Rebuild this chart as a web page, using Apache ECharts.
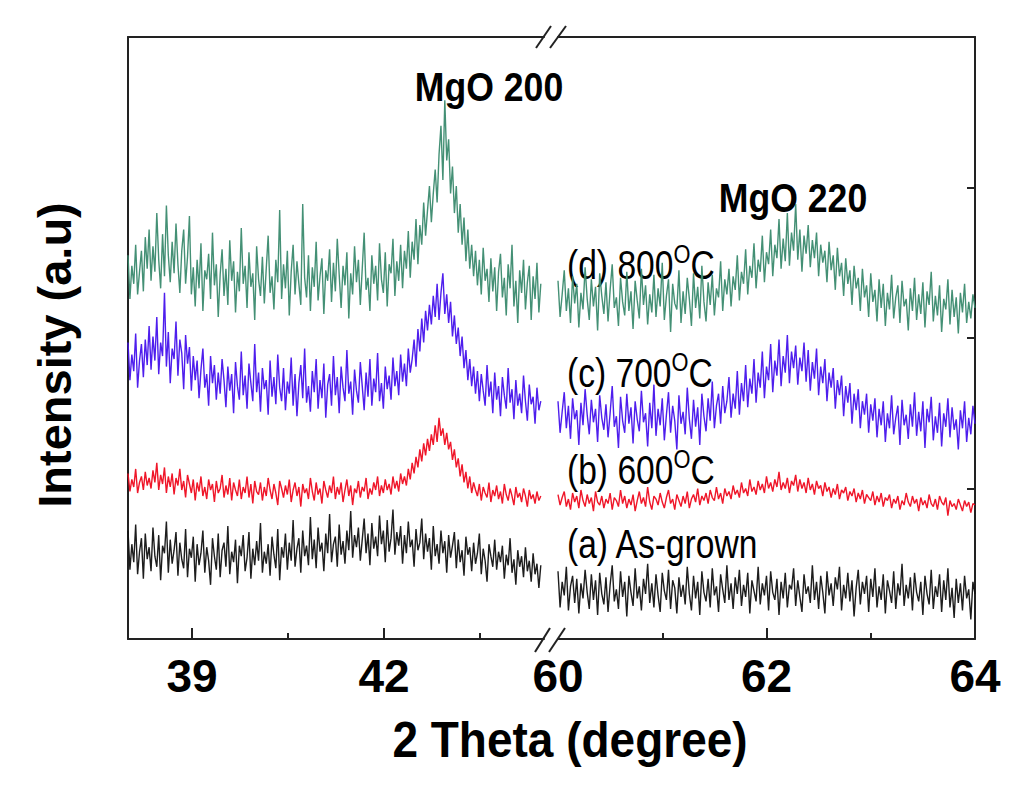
<!DOCTYPE html>
<html>
<head>
<meta charset="utf-8">
<script src="https://cdn.jsdelivr.net/npm/echarts@6/dist/echarts.min.js"></script>
<style>html,body{margin:0;padding:0;background:#fff}#c{width:1024px;height:796px}</style>
</head>
<body>
<div id="c"></div>
<script>
// ---- scan grids (2θ, degrees) ----
const leftScanStart = 38.0, leftScanStep = 0.03;
const rightScanStart = 60.0, rightScanStep = 0.02;

// ---- tick labels ----
const leftTickLabels = [39, 42];
const leftMinorTicks = [40.5, 43.5];
const rightTickLabels = [60, 62, 64];
const rightMajorTicks = [62];
const rightMinorTicks = [61, 63];

// ---- annotation text ----
const peakLabels = ['MgO 200', 'MgO 220'];
const sampleNames = ['(a) As-grown', '(b) 600', '(c) 700', '(d) 800'];

// ---- intensities (a.u., stacked offsets), left panel 38.00–44.45° ----
const asGrownLeft = [72,46,63,51,76,43,58,67,40,70,53,61,45,74,55,48,69,39,62,57,78,44,66,50,59,71,42,64,53,47,73,41,60,54,68,38,63,49,57,72,44,61,52,36,67,55,46,70,41,59,64,48,75,43,58,51,66,37,62,55,69,45,54,71,40,60,49,65,52,77,44,58,50,63,42,68,56,47,73,39,61,54,70,46,64,52,79,48,60,67,44,72,55,62,49,81,53,66,47,74,58,64,45,70,57,83,51,63,68,48,76,56,65,50,72,59,85,54,69,61,74,52,66,80,57,70,49,77,60,68,55,82,63,72,51,79,58,67,86,56,71,62,75,50,69,57,78,61,66,48,73,59,64,80,53,70,58,67,46,75,55,63,50,72,57,65,44,69,54,62,71,47,66,51,59,42,68,56,61,45,64,50,57,70,43,60,52,38,63,55,48,66,46,58,51,62,40,56,49,67,44,53,36,59,48,55,41,61,45,52,38,57,43,50,34,49];
const t600Left = [110,98,106,101,113,97,104,108,99,111,102,107,100,112,104,117,99,109,103,114,97,108,101,110,96,107,102,113,99,105,94,109,103,97,106,92,104,98,108,95,101,93,106,99,103,91,105,97,100,109,94,102,96,107,92,104,99,95,106,93,101,97,108,94,103,90,105,98,96,104,92,101,95,107,99,93,103,97,89,105,100,94,102,96,106,91,99,104,95,101,88,103,97,100,93,107,98,92,104,96,100,90,105,99,94,102,97,108,93,101,96,104,91,99,106,95,102,89,100,97,105,94,101,98,107,93,100,96,104,99,108,95,102,97,106,99,103,96,108,100,105,98,110,103,108,102,113,106,117,110,121,114,126,118,130,122,133,125,136,129,142,131,147,135,140,129,137,126,131,119,126,114,120,108,116,104,111,100,108,97,104,99,95,103,92,101,97,94,104,91,99,95,102,93,98,90,103,96,92,100,95,89,101,94,97,91,100,95,88,99,93,96,90,98,92,95];
const t700Left = [197,172,189,178,203,167,185,196,174,199,182,208,179,201,185,214,176,197,188,230,181,204,170,193,186,211,175,199,190,166,202,183,194,165,188,172,185,160,179,193,167,176,155,188,170,182,159,177,163,186,172,154,181,165,176,150,184,168,159,191,162,175,153,183,170,158,196,164,177,151,180,166,172,149,185,161,174,156,189,167,158,180,152,171,163,187,155,176,148,170,182,160,193,157,168,151,178,164,186,153,172,160,183,147,169,176,155,188,162,174,150,181,167,158,192,163,171,149,179,165,157,184,168,152,177,161,186,155,173,164,190,158,170,153,181,166,175,159,187,168,178,162,189,171,183,168,193,177,186,199,181,206,191,213,197,218,205,222,209,228,214,236,212,230,243,216,229,210,224,201,215,196,207,188,201,180,192,172,186,168,181,163,178,158,176,165,155,182,161,171,150,177,159,168,148,174,162,153,180,157,166,146,172,155,163,150,175,158,145,169,156,161,143,167,152,158];
const t800Left = [255,226,248,236,262,229,244,258,231,267,246,272,238,261,244,283,252,233,269,241,288,255,237,264,243,276,249,230,258,272,236,254,281,229,247,221,252,233,263,218,245,239,256,226,270,235,249,214,242,259,228,246,222,265,238,251,217,244,231,273,236,248,220,257,234,243,212,261,239,228,254,223,246,268,230,241,219,252,237,285,226,249,233,258,215,244,262,229,251,236,222,289,240,227,255,218,247,234,264,225,241,253,216,245,238,259,224,250,231,266,242,220,248,235,257,213,243,229,261,237,252,222,246,270,232,240,218,255,236,248,225,263,239,230,257,221,249,243,266,228,251,238,262,233,258,246,271,240,264,252,279,249,275,262,290,268,285,301,277,296,312,290,322,341,305,358,318,332,296,314,283,301,270,289,262,280,251,272,246,262,241,258,235,252,229,260,238,246,224,253,231,247,218,244,256,227,240,215,249,233,262,221,238,210,245,230,252,219,237,248,212,241,226,250,217,236];

// ---- intensities, right panel 60.00–64.00° ----
const asGrownRight = [45,21,38,29,48,19,35,42,24,40,17,37,27,46,31,20,43,26,39,16,44,30,23,41,18,36,49,25,33,20,45,28,38,15,42,31,22,47,27,35,19,40,30,50,24,37,21,43,29,18,44,32,26,46,20,39,34,17,41,28,36,23,48,30,19,42,27,38,16,45,31,25,40,21,47,29,35,18,43,33,24,49,26,37,20,41,30,46,22,36,28,44,17,39,32,25,48,23,37,29,42,19,45,31,26,40,16,38,27,44,21,36,33,47,22,39,28,18,43,30,35,24,49,26,38,20,42,31,17,45,29,37,22,41,33,48,19,36,27,44,25,39,15,34,46,23,38,30,42,18,40,28,47,21,35,26,43,17,39,32,24,45,20,37,29,50,22,36,27,41,19,44,31,25,38,16,42,30,23,46,20,35,28,43,18,39,26,47,21,34,14,40,24,37,19,42,27,33,13,38,30];
const t600Right = [96,89,94,98,88,93,86,97,91,95,87,99,92,88,96,90,94,85,98,91,89,95,87,93,90,97,86,94,92,88,99,90,95,87,93,89,96,85,92,98,90,94,88,101,91,86,95,93,89,97,91,87,94,99,90,93,86,96,92,88,95,90,98,87,93,96,91,100,89,95,92,97,90,99,94,92,101,93,97,90,100,95,98,93,102,96,99,94,104,97,100,95,106,98,101,96,105,99,103,97,108,100,104,98,106,101,111,99,104,100,107,97,105,102,109,98,106,100,104,97,107,99,103,96,105,100,102,95,104,98,101,94,100,96,103,93,99,97,101,92,98,95,100,91,97,93,99,90,96,94,92,98,89,95,91,97,88,94,92,96,87,93,90,95,86,92,89,97,91,88,95,90,93,85,94,89,92,87,96,90,88,93,86,95,91,89,94,82,92,88,90,86,93,89,85,92,88,91,84,90,89];
const t700Right = [158,137,151,164,140,155,133,160,146,152,129,157,142,166,149,136,159,144,153,131,162,147,139,156,134,150,168,141,148,127,161,145,137,163,143,154,130,158,146,138,165,144,150,128,157,140,169,135,153,142,160,132,149,164,137,155,145,126,162,143,151,136,167,146,133,159,141,154,129,163,148,138,160,145,171,140,155,163,143,168,150,158,174,147,163,153,178,149,170,158,182,154,173,163,186,157,177,167,191,160,181,172,196,164,185,175,199,168,188,177,202,170,191,180,195,169,187,178,197,171,192,165,184,173,193,162,181,170,186,158,177,167,180,153,172,162,175,148,168,157,170,143,163,152,166,140,158,149,163,137,156,145,160,134,153,142,158,131,150,140,162,136,147,155,129,159,142,149,133,156,141,164,135,151,138,158,127,153,144,161,132,148,137,157,128,150,141,160,134,154,139,146,126,152,140,158,131,147,136,155,143];
const t800Right = [238,214,229,245,218,233,210,241,223,236,207,230,219,247,226,212,239,221,234,205,243,228,216,237,211,232,249,220,227,208,240,224,215,244,218,231,206,238,225,213,246,222,235,209,229,217,242,214,233,221,250,212,228,239,204,236,223,219,245,210,231,216,240,226,208,243,220,234,213,248,224,211,237,222,242,215,233,227,251,218,239,229,246,221,241,232,255,225,244,236,259,229,248,240,263,233,252,244,268,237,257,249,272,241,262,253,279,246,266,251,283,248,270,258,289,252,272,244,268,256,275,247,265,253,270,241,262,250,258,237,264,245,255,232,260,241,250,228,253,236,245,222,248,233,240,218,246,227,235,214,243,224,232,211,239,220,236,208,230,219,242,213,227,235,210,238,221,226,205,233,218,240,212,229,216,237,207,231,222,244,211,228,215,235,204,226,219,239,209,232,214,227,203,230,217,236,210,224,213,229,220];

const colors = { a: '#111111', b: '#ee0a1e', c: '#4512ec', d: '#3a8a6e' };
const sans = "'Liberation Sans',Arial,Helvetica,sans-serif";

function pairs(vals, start, step) {
  return vals.map((v, i) => [Math.round((start + step * i) * 1000) / 1000, v]);
}
function line(name, vals, start, step, color, axisIdx) {
  return {
    name, type: 'line', xAxisIndex: axisIdx, yAxisIndex: axisIdx === 0 ? 0 : 1,
    data: pairs(vals, start, step), showSymbol: false, symbol: 'none',
    lineStyle: { color, width: 1.4, opacity: 0.95, join: 'bevel' }, itemStyle: { color }, silent: true, clip: true
  };
}

const chart = echarts.init(document.getElementById('c'), null, { renderer: 'svg', width: 1024, height: 796 });
const axisLineStyle = { color: '#222', width: 2 };
const tickLabel = { fontFamily: sans, fontSize: 46, fontWeight: 'bold', color: '#000', margin: 14 };

function sampleLabel(x, y, text, withDegree) {
  return { type: 'text', x, y, scaleX: 0.84, scaleY: 1,
    style: { text: withDegree ? text + '{s|O}C' : text, fontFamily: sans, fontSize: 40, lineHeight: 48, fill: '#000',
      align: 'left', verticalAlign: 'middle',
      rich: { s: { fontFamily: sans, fontSize: 26, lineHeight: 26, verticalAlign: 'top', fill: '#000' } } } };
}

const option = {
  backgroundColor: '#fff',
  animation: false,
  grid: [
    { left: 128, top: 37, width: 416, height: 602 },
    { left: 558, top: 37, width: 417, height: 602 }
  ],
  xAxis: [
    { gridIndex: 0, type: 'value', min: 38, max: 44.5, position: 'bottom',
      axisLine: { onZero: false, lineStyle: axisLineStyle },
      axisTick: { inside: true, length: 11, lineStyle: { width: 2, color: '#222' }, customValues: leftTickLabels },
      axisLabel: Object.assign({ customValues: leftTickLabels }, tickLabel), splitLine: { show: false } },
    { gridIndex: 0, type: 'value', min: 38, max: 44.5, position: 'bottom',
      axisLine: { show: false }, axisLabel: { show: false },
      axisTick: { inside: true, length: 6, lineStyle: { width: 2, color: '#222' }, customValues: leftMinorTicks },
      splitLine: { show: false } },
    { gridIndex: 0, type: 'value', min: 38, max: 44.5, position: 'top',
      axisLine: { onZero: false, lineStyle: axisLineStyle }, axisTick: { show: false }, axisLabel: { show: false }, splitLine: { show: false } },
    { gridIndex: 1, type: 'value', min: 60, max: 64, position: 'bottom',
      axisLine: { onZero: false, lineStyle: axisLineStyle },
      axisTick: { inside: true, length: 11, lineStyle: { width: 2, color: '#222' }, customValues: rightMajorTicks },
      axisLabel: Object.assign({ customValues: rightTickLabels }, tickLabel), splitLine: { show: false } },
    { gridIndex: 1, type: 'value', min: 60, max: 64, position: 'bottom',
      axisLine: { show: false }, axisLabel: { show: false },
      axisTick: { inside: true, length: 6, lineStyle: { width: 2, color: '#222' }, customValues: rightMinorTicks },
      splitLine: { show: false } },
    { gridIndex: 1, type: 'value', min: 60, max: 64, position: 'top',
      axisLine: { onZero: false, lineStyle: axisLineStyle }, axisTick: { show: false }, axisLabel: { show: false }, splitLine: { show: false } }
  ],
  yAxis: [
    { gridIndex: 0, type: 'value', min: 0, max: 400, interval: 100, position: 'left',
      axisLine: { show: true, onZero: false, lineStyle: axisLineStyle }, axisTick: { show: false },
      axisLabel: { show: false }, splitLine: { show: false } },
    { gridIndex: 1, type: 'value', min: 0, max: 400, interval: 100, position: 'right',
      axisLine: { show: true, onZero: false, lineStyle: axisLineStyle },
      axisTick: { show: true, inside: true, length: 8, lineStyle: { width: 2, color: '#222' } },
      axisLabel: { show: false }, splitLine: { show: false } }
  ],
  series: [
    line('As-grown', asGrownLeft, leftScanStart, leftScanStep, colors.a, 0),
    line('600', t600Left, leftScanStart, leftScanStep, colors.b, 0),
    line('700', t700Left, leftScanStart, leftScanStep, colors.c, 0),
    line('800', t800Left, leftScanStart, leftScanStep, colors.d, 0),
    line('As-grown R', asGrownRight, rightScanStart, rightScanStep, colors.a, 3),
    line('600 R', t600Right, rightScanStart, rightScanStep, colors.b, 3),
    line('700 R', t700Right, rightScanStart, rightScanStep, colors.c, 3),
    line('800 R', t800Right, rightScanStart, rightScanStep, colors.d, 3)
  ],
  graphic: [
    // axis titles
    { type: 'text', x: 54, y: 355, rotation: Math.PI / 2,
      style: { text: 'Intensity (a.u)', fontFamily: sans, fontSize: 47, fontWeight: 'bold', fill: '#000', align: 'center', verticalAlign: 'middle' } },
    { type: 'text', x: 570, y: 740, scaleX: 0.92,
      style: { text: '2 Theta (degree)', fontFamily: sans, fontSize: 50, fontWeight: 'bold', fill: '#000', align: 'center', verticalAlign: 'middle' } },
    // peak labels
    { type: 'text', x: 489, y: 87, scaleX: 0.89,
      style: { text: peakLabels[0], fontFamily: sans, fontSize: 40, fontWeight: 'bold', fill: '#000', align: 'center', verticalAlign: 'middle' } },
    { type: 'text', x: 793, y: 198, scaleX: 0.89,
      style: { text: peakLabels[1], fontFamily: sans, fontSize: 40, fontWeight: 'bold', fill: '#000', align: 'center', verticalAlign: 'middle' } },
    // sample labels
    sampleLabel(567, 265, sampleNames[3], true),
    sampleLabel(567, 373, sampleNames[2], true),
    sampleLabel(567, 470, sampleNames[1], true),
    sampleLabel(567, 544, sampleNames[0], false),
    // axis break marks
    { type: 'line', shape: { x1: 536, y1: 48, x2: 551, y2: 26 }, style: { stroke: '#222', lineWidth: 2 } },
    { type: 'line', shape: { x1: 550, y1: 48, x2: 566, y2: 26 }, style: { stroke: '#222', lineWidth: 2 } },
    { type: 'line', shape: { x1: 535, y1: 652, x2: 550, y2: 628 }, style: { stroke: '#222', lineWidth: 2 } },
    { type: 'line', shape: { x1: 549, y1: 652, x2: 565, y2: 628 }, style: { stroke: '#222', lineWidth: 2 } }
  ]
};
chart.setOption(option);
</script>
</body>
</html>
